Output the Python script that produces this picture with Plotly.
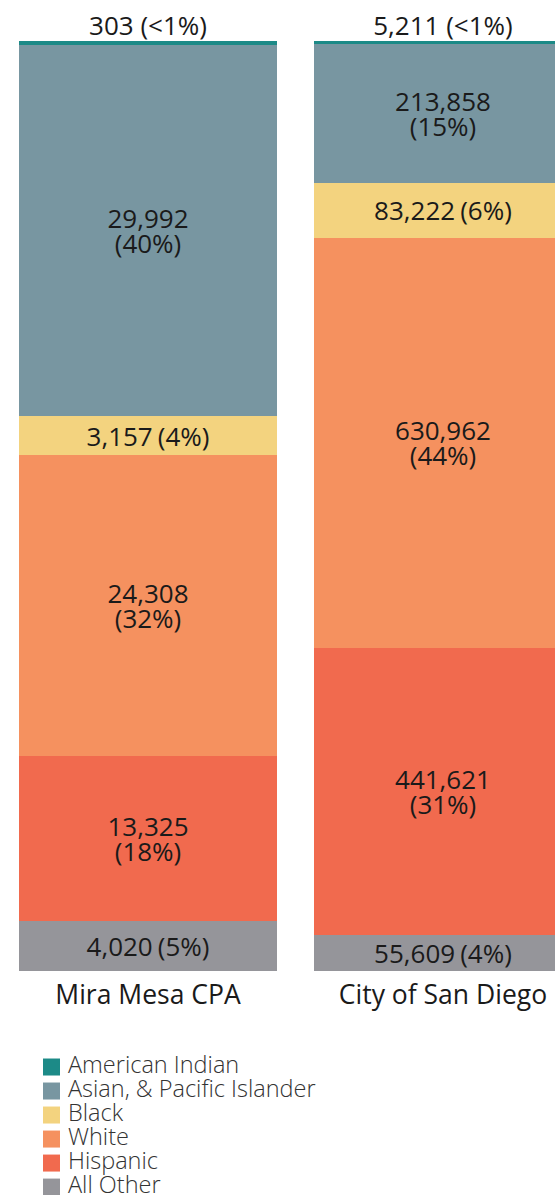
import plotly.graph_objects as go

# Population by race / ethnicity for the two geographies
areas = ["Mira Mesa CPA", "City of San Diego"]

# Stack order, bottom to top
groups = ["All Other", "Hispanic", "White", "Black",
          "Asian, & Pacific Islander", "American Indian"]

all_other = [4020, 55609]
hispanic = [13325, 441621]
white = [24308, 630962]
black = [3157, 83222]
asian_pi = [29992, 213858]
american_indian = [303, 5211]

series = [all_other, hispanic, white, black, asian_pi, american_indian]

colors = {
    "American Indian": "#1c8a87",
    "Asian, & Pacific Islander": "#7896a1",
    "Black": "#f3d37f",
    "White": "#f5915f",
    "Hispanic": "#f16a4e",
    "All Other": "#95959a",
}

totals = [sum(s[i] for s in series) for i in range(len(areas))]

INK = "#1a1a1a"
LABEL_PX = 26      # glyph size of the value labels
LINE_PX = 25       # distance between the two lines of a label


def pct_text(value, total):
    share = value / total * 100
    return "<1%" if share < 1 else f"{share:.0f}%"


def inside_label(value, total):
    share = value / total * 100
    sz = f'<span style="font-size:{LABEL_PX}px">'
    num = f"{sz}{value:,}</span>"
    pct = f"{sz}({pct_text(value, total)})</span>"
    return f"{num}<br>{pct}" if share >= 10 else f"{num} {pct}"


fig = go.Figure()

# stacked bars, normalised to 100 %
for name, vals in zip(groups, series):
    top = name == groups[-1]
    fig.add_trace(go.Bar(
        name=name,
        x=areas,
        y=vals,
        marker=dict(color=colors[name], line=dict(width=0)),
        text=None if top else [inside_label(v, t) for v, t in zip(vals, totals)],
        textposition="inside",
        insidetextanchor="middle",
        textangle=0,
        constraintext="none",
        insidetextfont=dict(family="Open Sans", size=LINE_PX / 1.3, color=INK),
        showlegend=False,
        hoverinfo="name+y",
        xaxis="x", yaxis="y",
    ))

# label for the thin top segment, sitting just above each column
top_vals = series[-1]
fig.add_trace(go.Scatter(
    x=areas,
    y=[100 * sum(s[i] for s in series) / totals[i] for i in range(len(areas))],
    mode="text",
    text=[f"{v:,} ({pct_text(v, t)})" for v, t in zip(top_vals, totals)],
    textposition="top center",
    textfont=dict(family="Open Sans", size=LABEL_PX, color=INK),
    cliponaxis=False,
    showlegend=False,
    hoverinfo="skip",
    xaxis="x", yaxis="y",
))

# key: one square swatch + name per group, top group first
key_groups = groups[::-1]
key_rows = list(range(len(key_groups)))
fig.add_trace(go.Scatter(
    x=[0] * len(key_groups),
    y=key_rows,
    mode="markers",
    marker=dict(symbol="square", size=17,
                color=[colors[g] for g in key_groups], line=dict(width=0)),
    cliponaxis=False,
    showlegend=False,
    hoverinfo="skip",
    xaxis="x2", yaxis="y2",
))
fig.add_trace(go.Scatter(
    x=[16.5] * len(key_groups),
    y=key_rows,
    mode="text",
    text=key_groups,
    textposition="middle right",
    textfont=dict(family="Open Sans", size=23.5, color="#333333", weight=300),
    cliponaxis=False,
    showlegend=False,
    hoverinfo="skip",
    xaxis="x2", yaxis="y2",
))

fig.update_layout(
    width=555,
    height=1195,
    barmode="stack",
    barnorm="percent",
    bargap=1 - 0.8746,
    margin=dict(l=0, r=0, t=41, b=0, autoexpand=False),
    plot_bgcolor="white",
    paper_bgcolor="white",
    font=dict(family="Open Sans", color=INK),
    showlegend=False,
    xaxis=dict(
        domain=[0, 1],
        range=[-0.5017, 1.3797],
        showgrid=False,
        zeroline=False,
        showline=False,
        ticks="",
        tickfont=dict(family="Open Sans", size=26.5, color=INK),
        ticklabelstandoff=5,
        fixedrange=True,
    ),
    yaxis=dict(
        domain=[(1195 - 971) / 1154, 1],
        range=[0, 100],
        visible=False,
        fixedrange=True,
    ),
    xaxis2=dict(
        domain=[0, 1],
        range=[-51.5, 503.5],
        visible=False,
        fixedrange=True,
        anchor="y2",
    ),
    yaxis2=dict(
        domain=[0, (1195 - 1055) / 1154],
        range=[5.33, -0.5],
        visible=False,
        fixedrange=True,
        anchor="x2",
    ),
)

fig.write_html("out.html")
